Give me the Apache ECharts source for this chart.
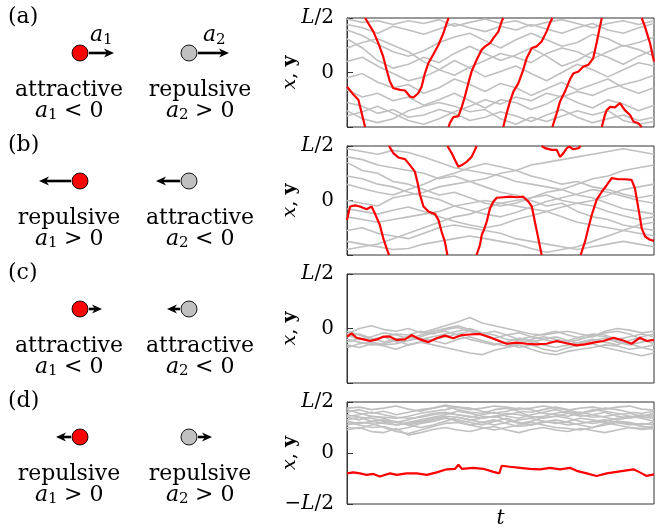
<!DOCTYPE html>
<html>
<head>
<meta charset="utf-8">
<script src="https://cdn.jsdelivr.net/npm/echarts@6/dist/echarts.min.js"></script>
<style>
html, body { margin: 0; padding: 0; background: #fff; }
#chart { width: 655px; height: 530px; }
</style>
</head>
<body>
<div id="chart"></div>
<script>
// y is in units of L/2, so the box runs from -L/2 (-1) to L/2 (1); t is 0..100
const yTicks = [-1, 0, 1]
const tickText = { '1': '{i|L}/2', '0': '0', '-1': '−{i|L}/2' }

// sample times of the gray trajectories
const tStep5 = [0, 5, 10, 15, 20, 25, 30, 35, 40, 45, 50, 55, 60, 65, 70, 75, 80, 85, 90, 95, 100]
const tStep4 = [0, 4, 8, 12, 16, 20, 24, 28, 32, 36, 40, 44, 48, 52, 56, 60, 64, 68, 72, 76, 80, 84, 88, 92, 96, 100]

// (a) red, attractive: drifts upward and wraps at +-L/2
const redA_t = [0, 2, 3.7, 5.9, 5.9, 7.5, 8.6, 10.2, 11.8, 12.9, 14, 15.1, 17.3, 18.9, 20.5, 21.6, 23.2, 24.3, 25.4, 26.5, 28.1, 29.8, 31.4, 32.5, 33.1,
  33.1, 33.5, 34.6, 36.3, 37.4, 38.4, 39.5, 40.6, 42.2, 43.9, 45, 46.6, 47.7, 49.3, 50.4, 50.9,
  50.9, 52, 53.1, 54.2, 55.8, 57.4, 58.5, 60.2, 61.8, 63.4, 65, 66.1, 66.9,
  66.9, 68.3, 69.4, 71, 72.6, 73.7, 75.4, 77, 78.6, 80.2, 81.3, 82.2, 83,
  83, 84, 84.6, 85.7, 87.3, 88.9, 90.5, 92.2, 93.3, 94.9, 96,
  96, 97, 98.7, 100]
const redA_y = [-0.26, -0.4, -0.5, -1, 1, 0.85, 0.75, 0.54, 0.29, 0.05, -0.17, -0.29, -0.32, -0.33, -0.44, -0.46, -0.38, -0.26, -0.01, 0.17, 0.33, 0.51, 0.72, 0.91, 1,
  -1, -0.93, -0.82, -0.8, -0.63, -0.44, -0.2, 0.02, 0.23, 0.42, 0.48, 0.54, 0.63, 0.75, 0.94, 1,
  -1, -0.75, -0.53, -0.35, -0.2, 0.05, 0.26, 0.45, 0.48, 0.57, 0.75, 0.91, 1,
  -1, -0.75, -0.53, -0.35, -0.13, -0.02, 0.02, 0.11, 0.14, 0.26, 0.54, 0.79, 1,
  -1, -0.78, -0.69, -0.63, -0.64, -0.56, -0.69, -0.78, -0.9, -0.93, -1,
  1, 0.85, 0.54, 0.2]
const grayA = [
  [0.88, 0.82, 0.72, 0.85, 0.78, 0.7, 0.8, 0.9, 0.82, 0.75, 0.85, 0.78, 0.88, 0.8, 0.72, 0.82, 0.9, 0.78, 0.72, 0.82, 0.9],
  [0.98, 0.92, 0.95, 0.88, 0.95, 0.9, 0.97, 0.85, 0.92, 0.98, 0.9, 0.95, 0.85, 0.92, 0.97, 0.9, 0.82, 0.9, 0.95, 0.88, 0.95],
  [0.78, 0.68, 0.52, 0.38, 0.3, 0.4, 0.55, 0.65, 0.72, 0.58, 0.45, 0.6, 0.72, 0.6, 0.48, 0.55, 0.7, 0.62, 0.48, 0.55, 0.65],
  [0.62, 0.45, 0.22, 0.08, 0.15, 0.28, 0.18, 0.35, 0.48, 0.35, 0.22, 0.32, 0.45, 0.3, 0.12, 0.22, 0.38, 0.28, 0.15, 0.3, 0.42],
  [0.2, 0.28, 0.12, -0.02, -0.15, -0.08, 0.05, 0.22, 0.08, -0.08, 0.02, 0.12, -0.02, -0.15, 0.0, 0.15, 0.05, -0.08, 0.05, 0.18, 0.12],
  [-0.1, -0.02, -0.18, -0.28, -0.22, -0.38, -0.28, -0.12, -0.22, -0.35, -0.2, -0.28, -0.42, -0.3, -0.18, -0.32, -0.22, -0.12, -0.28, -0.38, -0.28],
  [-0.32, -0.45, -0.38, -0.52, -0.45, -0.6, -0.5, -0.38, -0.52, -0.65, -0.5, -0.55, -0.68, -0.58, -0.42, -0.55, -0.65, -0.5, -0.58, -0.7, -0.6],
  [-0.55, -0.62, -0.75, -0.68, -0.82, -0.78, -0.68, -0.75, -0.88, -0.82, -0.72, -0.8, -0.9, -0.78, -0.68, -0.82, -0.92, -0.85, -0.78, -0.88, -0.82],
  [-0.7, -0.85, -0.92, -0.85, -0.7, -0.62, -0.55, -0.62, -0.72, -0.68, -0.85, -0.95, -0.82, -0.9, -0.8, -0.7, -0.78, -0.7, -0.88, -0.95, -0.9],
  [-0.8, -0.72, -0.62, -0.75, -0.88, -0.95, -0.85, -0.72, -0.62, -0.5, -0.58, -0.45, -0.52, -0.38, -0.45, -0.35, -0.42, -0.3, -0.22, -0.15, -0.05],
  [0.45, 0.55, 0.62, 0.5, 0.38, 0.2, 0.05, -0.05, 0.1, 0.22, 0.35, 0.28, 0.18, 0.35, 0.45, 0.38, 0.25, 0.38, 0.5, 0.42, 0.3]
]

// (b) red, repulsive
const redB_t = [0, 1, 2.6, 4.2, 6.4, 8, 9.1, 10.7, 11.8, 12.9, 13.7,
  13.7, 15.1, 16.7, 18.9, 20.5, 22.1, 22.9, 23.8, 24.9, 26.5, 28.7, 29.8, 30.8, 31.9, 32.7,
  32.7, 34.1, 35.2, 36.3, 37.4, 39, 40.6, 41.7, 42.2,
  42.2, 43.3, 43.9, 44.6, 45.5, 46.6, 47.7, 48.8, 50.9, 53.1, 55.3, 57.4, 59.1, 60.2, 61.2, 62.3, 63.4,
  63.4, 64.5, 66.7, 68.3, 69.4, 70.5, 71.6, 72.4, 73.7, 75.4, 76.1,
  76.1, 77.5, 78.6, 79.7, 81.3, 83, 84.6, 86.2, 88.4, 90.5, 92.7, 93.8, 94.9, 96, 97.1, 98.7, 100]
const redB_y = [-0.36, -0.11, -0.09, -0.11, -0.16, -0.11, -0.24, -0.45, -0.69, -0.88, -1,
  1, 0.87, 0.79, 0.76, 0.65, 0.53, 0.35, 0.1, -0.11, -0.2, -0.25, -0.36, -0.57, -0.76, -1,
  1, 0.87, 0.74, 0.62, 0.65, 0.71, 0.8, 0.93, 1,
  -1, -0.82, -0.63, -0.54, -0.39, -0.14, -0.02, 0.05, 0.06, 0.07, 0.06, 0.07, -0.02, -0.11, -0.39, -0.69, -1,
  1, 0.96, 0.93, 0.93, 0.8, 0.87, 0.96, 0.99, 0.94, 0.96, 1,
  -1, -0.76, -0.51, -0.27, 0.01, 0.16, 0.28, 0.41, 0.39, 0.39, 0.38, 0.22, -0.14, -0.51, -0.66, -0.72, -0.74]
const grayB = [
  [0.95, 0.9, 0.85, 0.92, 0.88, 0.8, 0.7, 0.6, 0.55, 0.5, 0.45, 0.35, 0.3, 0.25, 0.2, 0.1, 0.05, -0.05, -0.15, -0.2, -0.25],
  [0.8, 0.75, 0.65, 0.6, 0.55, 0.5, 0.4, 0.45, 0.35, 0.25, 0.15, 0.1, 0.0, -0.1, -0.05, -0.2, -0.3, -0.35, -0.45, -0.5, -0.55],
  [0.7, 0.55, 0.5, 0.35, 0.3, 0.2, 0.1, 0.15, 0.05, -0.05, -0.1, -0.05, 0.05, 0.15, 0.2, 0.3, 0.4, 0.45, 0.55, 0.6, 0.65],
  [0.45, 0.4, 0.3, 0.25, 0.15, 0.08, 0.02, -0.1, -0.18, -0.25, -0.3, -0.22, -0.12, -0.02, 0.05, 0.12, 0.2, 0.15, 0.08, 0.0, -0.05],
  [0.3, 0.22, 0.15, 0.1, 0.2, 0.3, 0.42, 0.5, 0.6, 0.68, 0.62, 0.55, 0.45, 0.38, 0.3, 0.35, 0.25, 0.2, 0.12, 0.05, 0.1],
  [0.0, -0.05, -0.1, 0.05, 0.1, 0.15, 0.25, 0.3, 0.35, 0.4, 0.5, 0.55, 0.65, 0.7, 0.75, 0.8, 0.85, 0.9, 0.95, 0.9, 0.85],
  [-0.15, -0.2, -0.25, -0.18, -0.12, -0.2, -0.3, -0.38, -0.45, -0.5, -0.45, -0.35, -0.28, -0.2, -0.12, -0.05, -0.1, -0.2, -0.28, -0.35, -0.3],
  [-0.3, -0.35, -0.4, -0.35, -0.3, -0.25, -0.2, -0.1, -0.05, 0.0, -0.05, -0.1, -0.15, -0.2, -0.3, -0.4, -0.45, -0.5, -0.55, -0.6, -0.65],
  [-0.55, -0.5, -0.6, -0.65, -0.7, -0.6, -0.5, -0.45, -0.5, -0.55, -0.6, -0.7, -0.75, -0.8, -0.85, -0.9, -0.85, -0.8, -0.75, -0.8, -0.85],
  [-0.75, -0.8, -0.85, -0.9, -0.88, -0.8, -0.75, -0.7, -0.65, -0.7, -0.75, -0.8, -0.88, -0.95, -0.9, -0.85, -0.75, -0.65, -0.55, -0.45, -0.4],
  [-0.9, -0.85, -0.8, -0.7, -0.6, -0.5, -0.4, -0.3, -0.25, -0.15, -0.05, 0.0, 0.05, 0.1, 0.0, -0.05, 0.0, 0.1, 0.2, 0.25, 0.3]
]

// (c) everybody attractive: all stay together below 0
const redC_t = [0, 1.5, 3.1, 5.3, 7.5, 9.7, 11.8, 14, 16.2, 18.9, 21, 23.8, 26.5, 29.2, 31.9, 34.6, 37.4, 40, 43.3, 46, 48.8,
  52, 55.3, 58.5, 61.8, 65, 68.3, 71.5, 74.8, 77.5, 80.2, 83.5, 86.8, 90, 92.7, 95.4, 97.6, 100]
const redC_y = [-0.15, -0.09, -0.17, -0.2, -0.23, -0.2, -0.15, -0.15, -0.21, -0.2, -0.12, -0.2, -0.25, -0.18, -0.13, -0.18, -0.12, -0.11, -0.1, -0.15, -0.21,
  -0.28, -0.26, -0.28, -0.29, -0.28, -0.23, -0.27, -0.31, -0.29, -0.26, -0.23, -0.17, -0.22, -0.28, -0.17, -0.23, -0.21]
const grayC = [
  [-0.1, 0.0, 0.05, -0.02, -0.05, 0.0, -0.08, -0.02, 0.05, 0.12, 0.2, 0.1, 0.05, 0.0, -0.05, -0.1, -0.12, -0.08, -0.05, -0.1, -0.15, -0.05, 0.0, -0.03, -0.08, -0.05],
  [-0.2, -0.25, -0.3, -0.28, -0.22, -0.3, -0.25, -0.2, -0.15, -0.1, -0.05, -0.12, -0.2, -0.28, -0.35, -0.3, -0.38, -0.42, -0.35, -0.3, -0.28, -0.35, -0.4, -0.45, -0.5, -0.45],
  [-0.25, -0.18, -0.22, -0.15, -0.1, -0.12, -0.05, -0.1, -0.02, 0.02, -0.05, -0.1, -0.18, -0.12, -0.08, -0.15, -0.2, -0.25, -0.22, -0.15, -0.1, -0.12, -0.2, -0.15, -0.1, -0.15],
  [-0.3, -0.35, -0.28, -0.32, -0.38, -0.3, -0.25, -0.3, -0.35, -0.4, -0.45, -0.48, -0.4, -0.35, -0.3, -0.38, -0.45, -0.48, -0.42, -0.38, -0.35, -0.3, -0.32, -0.38, -0.35, -0.3],
  [-0.15, -0.1, -0.18, -0.25, -0.2, -0.15, -0.2, -0.15, -0.1, -0.05, 0.0, -0.08, -0.12, -0.2, -0.22, -0.25, -0.2, -0.15, -0.22, -0.28, -0.22, -0.18, -0.25, -0.3, -0.25, -0.2],
  [-0.05, -0.12, -0.2, -0.15, -0.25, -0.22, -0.15, -0.08, -0.05, -0.12, -0.2, -0.25, -0.3, -0.25, -0.18, -0.22, -0.3, -0.35, -0.3, -0.25, -0.2, -0.25, -0.3, -0.22, -0.15, -0.1],
  [-0.35, -0.28, -0.25, -0.3, -0.28, -0.22, -0.18, -0.22, -0.28, -0.2, -0.15, -0.22, -0.28, -0.32, -0.28, -0.2, -0.15, -0.2, -0.25, -0.2, -0.12, -0.15, -0.22, -0.28, -0.35, -0.4],
  [-0.12, -0.2, -0.15, -0.08, -0.12, -0.18, -0.12, -0.05, 0.0, 0.05, -0.02, -0.1, -0.05, -0.12, -0.2, -0.15, -0.1, -0.05, -0.12, -0.18, -0.15, -0.08, -0.05, -0.1, -0.2, -0.28]
]

// (d) everybody repulsive: red and gray sit apart
const redD_t = [0, 2.1, 4.2, 6.4, 8.6, 10.7, 14, 16.2, 19.4, 22.7, 26, 29.2, 32.5, 35.2, 36.3, 37.4, 41.2, 44.4, 47.7, 49.6,
  50.4, 53.1, 56.4, 59.6, 62.9, 66.1, 69.4, 72.6, 74.8, 78.1, 81.3, 84.6, 87.8, 91.1, 93.3, 95.4, 97.6, 100]
const redD_y = [-0.4, -0.38, -0.4, -0.43, -0.41, -0.46, -0.4, -0.43, -0.4, -0.4, -0.43, -0.38, -0.32, -0.31, -0.23, -0.31, -0.29, -0.31, -0.37, -0.4,
  -0.25, -0.27, -0.29, -0.31, -0.32, -0.29, -0.32, -0.29, -0.35, -0.4, -0.45, -0.4, -0.37, -0.34, -0.32, -0.38, -0.45, -0.42]
const grayD = [
  [0.8, 0.85, 0.78, 0.82, 0.75, 0.8, 0.85, 0.88, 0.92, 0.85, 0.8, 0.78, 0.85, 0.88, 0.82, 0.8, 0.85, 0.9, 0.85, 0.78, 0.82, 0.88, 0.85, 0.8, 0.78, 0.82],
  [0.88, 0.9, 0.85, 0.88, 0.92, 0.86, 0.82, 0.88, 0.94, 0.9, 0.85, 0.88, 0.92, 0.9, 0.86, 0.88, 0.92, 0.88, 0.84, 0.88, 0.9, 0.86, 0.9, 0.92, 0.86, 0.84],
  [0.7, 0.65, 0.72, 0.68, 0.6, 0.65, 0.72, 0.78, 0.8, 0.75, 0.7, 0.75, 0.8, 0.72, 0.68, 0.75, 0.8, 0.85, 0.78, 0.72, 0.75, 0.8, 0.72, 0.68, 0.72, 0.75],
  [0.6, 0.55, 0.5, 0.52, 0.45, 0.5, 0.58, 0.62, 0.68, 0.65, 0.6, 0.55, 0.62, 0.68, 0.6, 0.55, 0.6, 0.65, 0.6, 0.55, 0.5, 0.58, 0.62, 0.6, 0.55, 0.6],
  [0.75, 0.7, 0.62, 0.58, 0.55, 0.6, 0.65, 0.7, 0.75, 0.82, 0.78, 0.72, 0.7, 0.75, 0.8, 0.72, 0.68, 0.72, 0.78, 0.8, 0.75, 0.7, 0.65, 0.7, 0.75, 0.7],
  [0.55, 0.6, 0.58, 0.5, 0.42, 0.38, 0.45, 0.52, 0.58, 0.6, 0.55, 0.5, 0.45, 0.5, 0.55, 0.6, 0.55, 0.5, 0.48, 0.45, 0.5, 0.55, 0.6, 0.58, 0.52, 0.5],
  [0.85, 0.78, 0.72, 0.7, 0.68, 0.72, 0.78, 0.82, 0.85, 0.9, 0.88, 0.82, 0.78, 0.82, 0.88, 0.85, 0.78, 0.75, 0.72, 0.78, 0.85, 0.82, 0.78, 0.72, 0.7, 0.68],
  [0.65, 0.7, 0.68, 0.62, 0.55, 0.58, 0.62, 0.68, 0.72, 0.7, 0.65, 0.68, 0.72, 0.65, 0.58, 0.62, 0.7, 0.72, 0.68, 0.62, 0.58, 0.62, 0.68, 0.72, 0.68, 0.62],
  [0.5, 0.48, 0.55, 0.6, 0.62, 0.55, 0.5, 0.55, 0.62, 0.7, 0.65, 0.6, 0.55, 0.6, 0.65, 0.68, 0.62, 0.58, 0.62, 0.68, 0.65, 0.6, 0.55, 0.5, 0.48, 0.52],
  [0.72, 0.75, 0.8, 0.75, 0.7, 0.68, 0.7, 0.75, 0.78, 0.75, 0.72, 0.68, 0.72, 0.78, 0.75, 0.7, 0.72, 0.78, 0.82, 0.75, 0.7, 0.72, 0.75, 0.78, 0.72, 0.78],
  [0.62, 0.58, 0.62, 0.65, 0.6, 0.55, 0.6, 0.65, 0.7, 0.62, 0.55, 0.6, 0.65, 0.58, 0.52, 0.55, 0.62, 0.6, 0.55, 0.58, 0.62, 0.65, 0.6, 0.55, 0.58, 0.55],
  [0.45, 0.5, 0.42, 0.4, 0.48, 0.35, 0.4, 0.46, 0.5, 0.45, 0.42, 0.48, 0.52, 0.45, 0.4, 0.46, 0.5, 0.45, 0.42, 0.48, 0.44, 0.4, 0.45, 0.5, 0.46, 0.48]
]

const panels = [
  { red: [redA_t, redA_y], gray: grayA, tGray: tStep5, bottomLabel: false },
  { red: [redB_t, redB_y], gray: grayB, tGray: tStep5, bottomLabel: false },
  { red: [redC_t, redC_y], gray: grayC, tGray: tStep4, bottomLabel: false },
  { red: [redD_t, redD_y], gray: grayD, tGray: tStep4, bottomLabel: true }
]

// left column: what each row says about the two particles
const rows = [
  { tag: '(a)', p1: { word: 'attractive', sign: '<', dir: 1, len: 25 }, p2: { word: 'repulsive', sign: '>', dir: 1, len: 31 }, names: true },
  { tag: '(b)', p1: { word: 'repulsive', sign: '>', dir: -1, len: 32 }, p2: { word: 'attractive', sign: '<', dir: -1, len: 24 } },
  { tag: '(c)', p1: { word: 'attractive', sign: '<', dir: 1, len: 13 }, p2: { word: 'attractive', sign: '<', dir: -1, len: 13 } },
  { tag: '(d)', p1: { word: 'repulsive', sign: '>', dir: -1, len: 15 }, p2: { word: 'repulsive', sign: '>', dir: 1, len: 14 } }
]

const FONT = '"DejaVu Serif", "Liberation Serif", serif'
const gridTops = [18, 146, 274, 402]

// split a trajectory where it jumps across the periodic boundary
function wrapPairs(ts, ys) {
  const out = []
  for (let i = 0; i < ts.length; i++) {
    if (i > 0 && Math.abs(ys[i] - ys[i - 1]) > 1) out.push([ts[i], '-'])
    out.push([ts[i], ys[i]])
  }
  return out
}

const grid = [], xAxis = [], yAxis = [], series = []
panels.forEach((p, k) => {
  grid.push({ left: 347, right: 1, top: gridTops[k], height: 109, show: true, borderColor: '#333', borderWidth: 1 })
  xAxis.push({
    type: 'value', gridIndex: k, min: 0, max: 100,
    axisLine: { show: false }, axisTick: { show: false }, axisLabel: { show: false }, splitLine: { show: false },
    name: k === 3 ? 't' : '', nameLocation: 'middle', nameGap: 5, nameMoveOverlap: false,
    nameTextStyle: { fontFamily: FONT, fontStyle: 'italic', fontSize: 20, color: '#000' }
  })
  yAxis.push({
    type: 'value', gridIndex: k, min: -1, max: 1, interval: 1,
    axisLine: { show: true, lineStyle: { color: '#333', width: 1 } },
    axisTick: { show: true, inside: true, length: 6, lineStyle: { color: '#333' } },
    splitLine: { show: false },
    axisLabel: {
      margin: 13, showMinLabel: true, showMaxLabel: true,
      fontFamily: FONT, fontSize: 20, color: '#000',
      formatter: v => (v === -1 && !p.bottomLabel) ? '' : tickText[String(v)],
      rich: { i: { fontFamily: FONT, fontStyle: 'italic', fontSize: 20, color: '#000' } }
    },
    name: '{x|x}{c|, }{y|y}', nameLocation: 'middle', nameRotate: 90, nameGap: 47, nameMoveOverlap: false,
    nameTextStyle: {
      rich: {
        x: { fontFamily: FONT, fontStyle: 'italic', fontSize: 19, color: '#000' },
        c: { fontFamily: FONT, fontSize: 19, color: '#000' },
        y: { fontFamily: FONT, fontWeight: 'bold', fontSize: 19, color: '#000' }
      }
    }
  })
  p.gray.forEach(g => {
    series.push({
      type: 'line', xAxisIndex: k, yAxisIndex: k, data: wrapPairs(p.tGray, g),
      symbol: 'none', silent: true, connectNulls: false,
      lineStyle: { color: '#c0c0c0', width: 1.6 }
    })
  })
  series.push({
    type: 'line', xAxisIndex: k, yAxisIndex: k, data: wrapPairs(p.red[0], p.red[1]),
    symbol: 'none', silent: true, connectNulls: false,
    lineStyle: { color: '#ff0000', width: 2.2 }
  })
})

// diagram on the left, drawn as graphic elements
const graphics = []
function txt(x, y, text, opts) {
  graphics.push({
    type: 'text', x: x, y: y, silent: true,
    style: Object.assign({ text: text, font: '22px ' + FONT, fill: '#000', textAlign: 'center', textVerticalAlign: 'middle', align: 'center', verticalAlign: 'middle' }, opts || {})
  })
}
function particle(cx, cy, color, dir, len) {
  const x0 = cx + dir * 9
  const tip = x0 + dir * len
  graphics.push({ type: 'line', silent: true, shape: { x1: x0, y1: cy, x2: tip - dir * 6, y2: cy }, style: { stroke: '#000', lineWidth: 2.6 } })
  graphics.push({ type: 'polygon', silent: true, shape: { points: [[tip, cy], [tip - dir * 10, cy - 4.5], [tip - dir * 7, cy], [tip - dir * 10, cy + 4.5]] }, style: { fill: '#000' } })
  graphics.push({ type: 'circle', silent: true, shape: { cx: cx, cy: cy, r: 8 }, style: { fill: color, stroke: '#000', lineWidth: 0.9 } })
}
function condition(x, y, idx, sign) {
  txt(x, y, 'a', { font: 'italic 22px ' + FONT, textAlign: 'left', align: 'left' })
  txt(x + 13, y + 4, String(idx), { font: '15px ' + FONT, textAlign: 'left', align: 'left' })
  txt(x + 29, y, sign + ' 0', { textAlign: 'left', align: 'left' })
}
rows.forEach((r, k) => {
  const dy = 128 * k
  txt(8, 17 + dy, r.tag, { textAlign: 'left', align: 'left' })
  particle(80, 53 + dy, '#ff0000', r.p1.dir, r.p1.len)
  particle(189, 53 + dy, '#c0c0c0', r.p2.dir, r.p2.len)
  txt(69, 90 + dy, r.p1.word)
  txt(200, 90 + dy, r.p2.word)
  condition(35, 111 + dy, 1, r.p1.sign)
  condition(166, 111 + dy, 2, r.p2.sign)
  if (r.names) {
    txt(90, 35, 'a', { font: 'italic 22px ' + FONT, textAlign: 'left', align: 'left' })
    txt(103, 40, '1', { font: '15px ' + FONT, textAlign: 'left', align: 'left' })
    txt(203, 35, 'a', { font: 'italic 22px ' + FONT, textAlign: 'left', align: 'left' })
    txt(216, 40, '2', { font: '15px ' + FONT, textAlign: 'left', align: 'left' })
  }
})

const chart = echarts.init(document.getElementById('chart'), null, { renderer: 'canvas' })
chart.setOption({
  animation: false,
  backgroundColor: '#fff',
  grid: grid,
  xAxis: xAxis,
  yAxis: yAxis,
  series: series,
  graphic: { elements: graphics }
})
</script>
</body>
</html>
